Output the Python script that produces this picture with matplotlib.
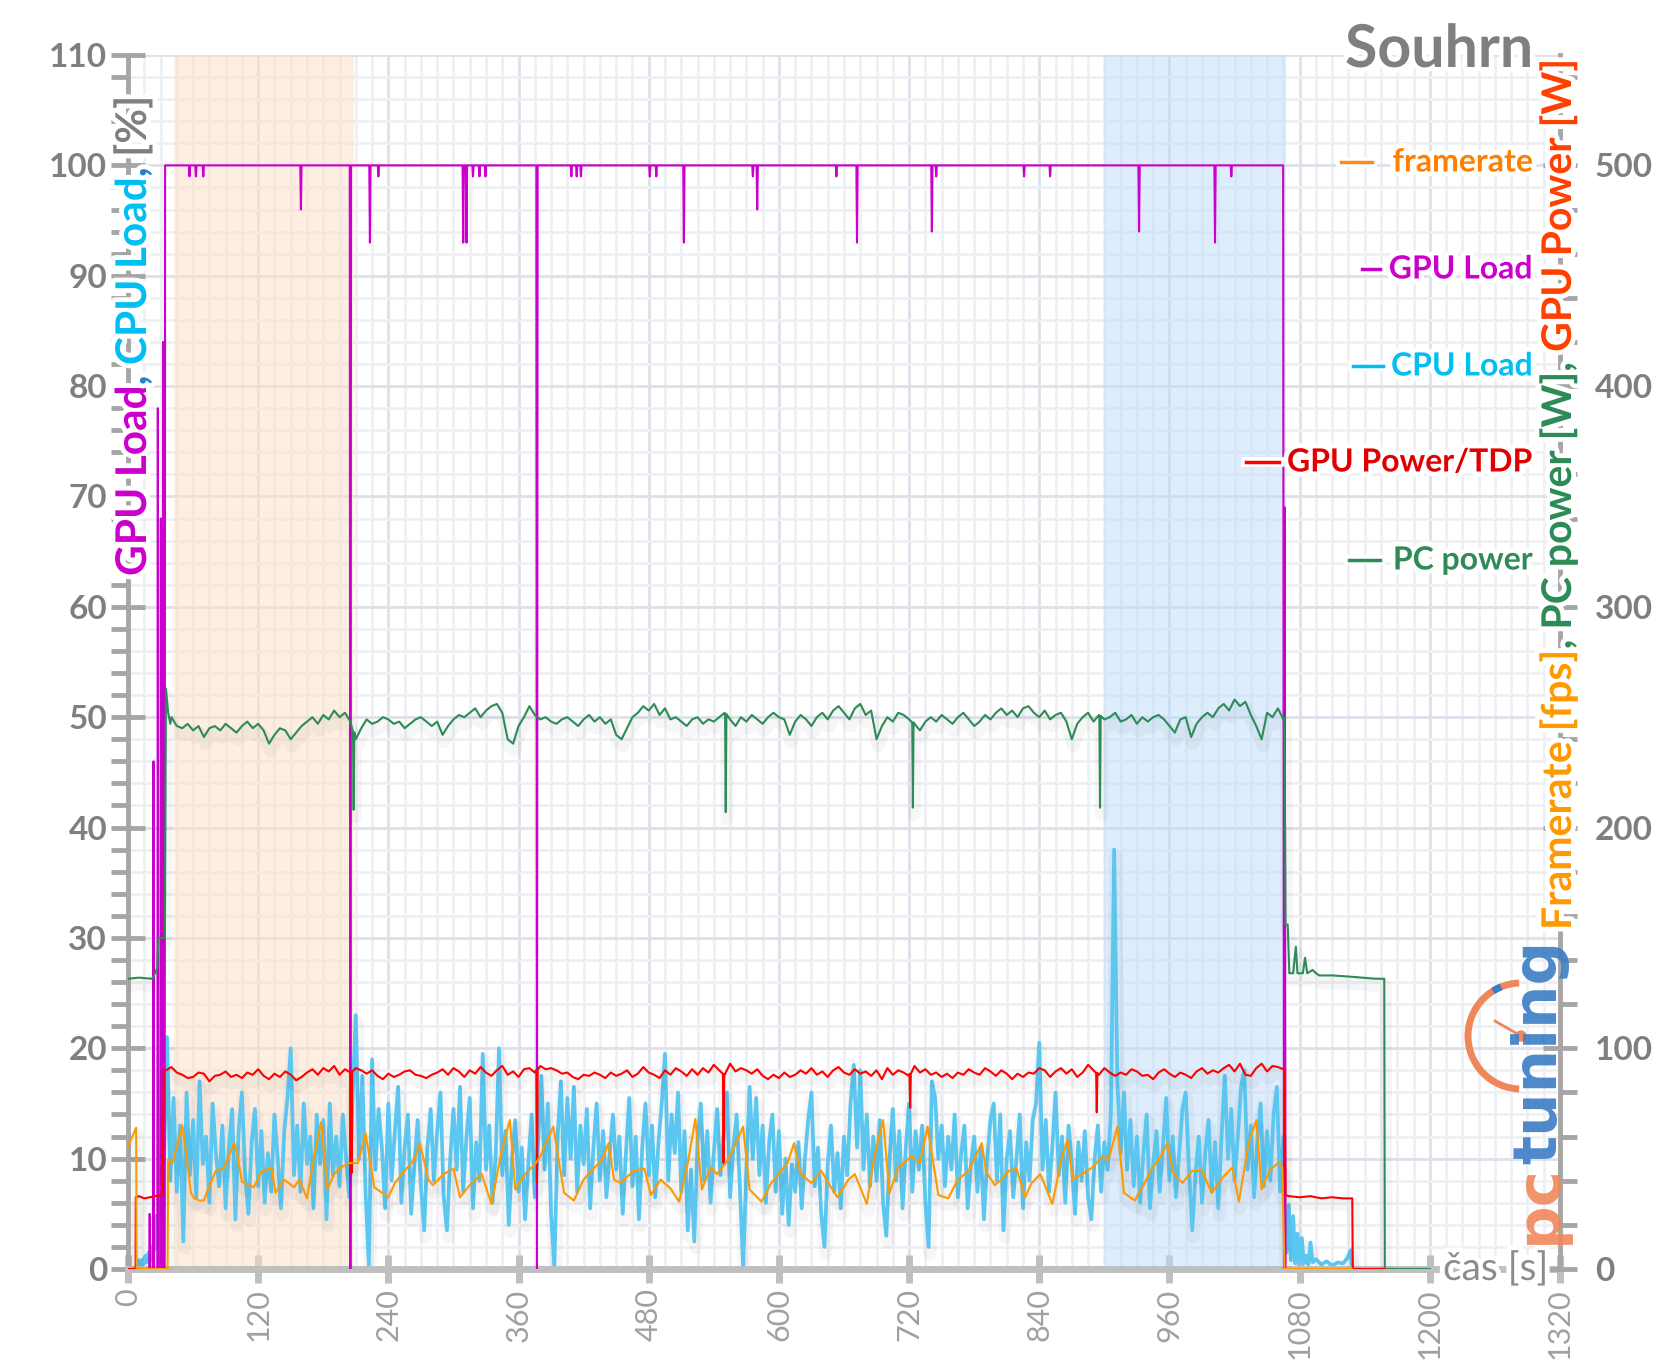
import numpy as np
import matplotlib
matplotlib.use("Agg")
import matplotlib.pyplot as plt
import matplotlib.patheffects as pe
from matplotlib.lines import Line2D
from matplotlib.patches import Arc, Circle

plt.rcParams['font.family'] = ['Lato', 'DejaVu Sans']

# ---------------- data ----------------
# GPU load [%] : start spikes, dips from 100 %, shutdown
gpu_start_t = [0, 19.5, 20, 20.5, 23, 23.5, 24, 27, 27.5, 28, 30, 30.3, 30.8, 32, 32.3, 32.8, 33.8, 34.2]
gpu_start_v = [0, 0, 5, 0, 0, 46, 0, 0, 78, 0, 0, 68, 0, 0, 84, 0, 0, 100]
gpu_dip_t = [56.7, 62.6, 69.4, 159.4, 205, 223, 230.8, 309, 312, 318, 324, 329.5, 377, 408.7,
             413.6, 417.5, 481, 487, 512.4, 576, 580, 653, 672, 741, 745, 826, 850, 932, 1002, 1017]
gpu_dip_v = [99, 99, 99, 96, 0, 93, 99, 93, 93, 99, 99, 99, 0, 99,
             99, 99, 99, 99, 93, 99, 96, 99, 93, 94, 99, 99, 99, 94, 93, 99]
gpu_end_t = [1064.8, 1065.6, 1066.2, 1067, 1160]
gpu_end_v = [100, 0, 69, 0, 0]

# CPU load [%]
cpu_start_t = list(range(8, 33))
cpu_start_v = [0, 0.3, 0.8, 0.4, 0.6, 0.3, 0.9, 0.5, 1.2, 0.6, 0.8, 1.5, 0.7, 1.1, 2.0, 1.3,
               2.5, 1.8, 4.8, 3.0, 2.2, 5.0, 3.5, 6.5, 8.0]
cpu_t = np.arange(33, 1066, 3)
cpu_v = [
    9.5, 21, 8, 15.5, 7, 13, 2.5, 16, 8.5, 13.5, 6.5, 17, 9.5, 12, 6, 15, 10.5, 7.5, 13, 5.5,
    11, 14.5, 4.5, 12.5, 16, 8.5, 5, 11.5, 14.5, 7.5, 12.5, 6, 10.5, 7, 14, 10, 5.5, 12.5, 15.5, 20,
    8.5, 13, 7, 15, 9.5, 12, 5.5, 14, 9.5, 13.5, 4.5, 15, 8.5, 12, 7.5, 14, 10, 6.5, 15.5, 23,
    10, 17.5, 7, 0.3, 19, 9, 14.5, 11, 5.5, 15, 8, 12.5, 16.5, 6, 11, 14, 5, 9.5, 13.5, 7.5,
    3.5, 11, 14.5, 8, 12.5, 16, 6.5, 3.5, 10, 14.5, 9, 16.5, 7, 12, 15.5, 5.5, 11.5, 8, 19.5, 9,
    13, 6, 10.5, 20, 8.5, 12.5, 4, 10, 13.5, 7, 11, 4.5, 9.5, 14, 6.5, 11.5, 17.5, 9, 15, 5,
    0.2, 12, 17, 8.5, 15.5, 10, 16.5, 7, 13, 9.5, 14.5, 5.5, 11, 15, 8, 12.5, 6.5, 10.5, 14, 9,
    12, 5, 10.5, 15.5, 7.5, 12, 4.5, 11, 15, 8.5, 13, 6.5, 11.5, 15, 19.5, 8, 14, 10.5, 16, 7,
    12.5, 3.5, 9, 2.5, 11.5, 15, 8, 12.5, 6, 10.5, 14.5, 8.5, 12, 16, 6.5, 11, 14, 7.5, 0.2, 9,
    16.5, 10, 15.5, 8.5, 13, 6, 11.5, 14, 7, 12.5, 5, 10, 4, 9.5, 7, 11.5, 5.5, 10, 13.5, 16,
    7.5, 11, 5, 2, 9.5, 13, 7, 10.5, 5.5, 12, 8.5, 15, 18.5, 11, 18, 9, 14, 7.5, 12, 8,
    13.5, 6, 3, 10, 14.5, 8, 12.5, 5.5, 11, 15, 7, 12.5, 9, 13, 6, 2, 17, 15.5, 10, 13,
    7.5, 12, 9, 14, 6.5, 10.5, 13, 5.5, 9.5, 12, 7, 11, 4.5, 10, 13.5, 15, 8, 14, 3.5, 10,
    12.5, 6.5, 10, 14, 5.5, 11.5, 8, 13.5, 15, 20.5, 9, 13.5, 7, 11, 16, 8.5, 12, 6, 13, 9.5,
    5, 11.5, 8, 12.5, 6.5, 4.5, 10, 13, 7, 11.5, 9, 14, 38, 17, 10.5, 16, 9, 13.5, 7.5, 12,
    6, 10.5, 14, 5.5, 9.5, 12.5, 7, 11, 15.5, 8, 12, 6.5, 10.5, 14.5, 16, 9, 3.5, 8.5, 12, 6,
    10.5, 13.5, 7, 11.5, 5.5, 12, 17.5, 10, 14.5, 8, 12, 16.5, 18, 9, 13, 6.5, 11.5, 15, 7.5, 12.5,
    8, 14, 16.5, 7, 12,
]
cpu_end_t = [1066, 1068, 1070, 1072, 1074, 1076, 1078, 1080, 1082, 1084, 1086, 1088, 1090, 1092,
             1095, 1100, 1105, 1110, 1115, 1120, 1124, 1127, 1128.5]
cpu_end_v = [5.5, 1.5, 5.8, 0.8, 4.8, 0.5, 3.2, 0.6, 2.8, 0.5, 1.2, 0.4, 2.4, 0.6,
             0.9, 0.4, 0.7, 0.3, 0.6, 0.5, 1.0, 1.7, 0]

# framerate [fps]
fps_t = [0, 4, 7.5, 8, 36.5, 37, 41, 50, 54, 58, 61, 66, 70, 73, 81, 88, 98, 101, 105, 116, 123,
         132, 136, 144, 153, 158, 165, 172, 178, 184, 190, 196, 204, 212, 219, 227, 240, 246, 255,
         264, 269, 277, 281, 291, 300, 306, 315, 326, 335, 344, 352, 357, 366, 376, 380, 392, 402,
         411, 420, 429, 437, 443, 448, 454, 466, 476, 482, 491, 500, 508, 516, 523, 529, 537, 543,
         553, 559, 567, 573, 584, 593, 602, 608, 614, 620, 630, 639, 648, 654, 664, 670, 681, 688,
         696, 702, 710, 722, 730, 737, 747, 756, 765, 775, 787, 791, 799, 805, 812, 819, 827, 833,
         841, 852, 861, 866, 871, 879, 889, 898, 904, 912, 918, 928, 935, 944, 952, 958, 964, 972,
         981, 990, 999, 1009, 1018, 1024, 1033, 1040, 1045, 1052, 1061, 1064, 1066, 1128]
fps_v = [55.5, 60, 64, 0, 0, 49.5, 48, 65, 51, 34.5, 32, 31, 31, 35, 44.5, 45.5, 57, 51, 39.5, 37, 44,
         46, 34.5, 40.5, 37, 40.5, 32, 52.5, 66.5, 36, 43, 46, 48, 48, 61.5, 37, 32.5, 39, 44.5,
         49.5, 57, 40.5, 38, 43, 45.5, 32.5, 38, 43, 29.5, 52.5, 67.5, 36, 43, 48, 51, 64.5, 34.5,
         31, 40.5, 45.5, 49.5, 57, 40.5, 39, 44.5, 45.5, 33.5, 40.5, 36.5, 30.5, 48, 68, 36, 46, 43,
         49.5, 55.5, 64.5, 36, 30.5, 39, 44.5, 48, 57, 43, 39, 44.5, 37, 32.5, 40.5, 43, 29.5, 51,
         67.5, 34.5, 46, 51, 48, 64.5, 33.5, 32, 40.5, 44.5, 57, 44, 38, 40.5, 44.5, 45.5, 32.5, 39,
         43, 29.5, 51, 58.5, 40.5, 43, 46, 51, 49.5, 64.5, 34.5, 31, 37, 45.5, 51, 57, 43, 39,
         44.5, 44.5, 34.5, 41.5, 46, 30.5, 57, 67.5, 36, 44.5, 48.5, 46, 0, 0]

# GPU power [W]
gpw_start_t = [0, 7, 7.2, 10, 15, 20, 25, 30, 32, 33]
gpw_start_v = [0, 0, 32.5, 33, 32, 32.5, 33, 33.5, 34, 90]
gpw_t = np.arange(35, 1066, 5)
gpw_v = [
    90, 91.5, 89, 88, 86.5, 87, 89, 88.5, 85, 87.5, 88, 89.5, 87, 88, 86.5, 89, 88, 90.5, 87.5, 86,
    88.5, 87, 89.5, 88, 85.5, 87, 89, 90.5, 88, 91, 89.5, 92, 88, 90.5, 89, 91, 90, 88.5, 90, 87.5,
    86, 88.5, 87, 88, 89.5, 90, 88, 87.5, 86.5, 88, 89, 90.5, 88, 91, 89.5, 87, 90, 88.5, 91.5, 89,
    87.5, 90, 92, 88, 89.5, 87, 90.5, 91, 89, 92, 90.5, 91, 90, 88.5, 89, 87, 86, 88, 87.5, 89,
    88, 86.5, 89, 87.5, 88.5, 90, 87, 88.5, 91.5, 89, 88, 86.5, 90, 88, 91, 89.5, 87.5, 90.5, 88, 91,
    89, 92.5, 90, 88, 93, 89.5, 91, 90, 88.5, 90.5, 87.5, 86, 88, 86.5, 89, 87, 88, 90, 88.5, 91,
    88, 89.5, 87, 90, 91.5, 89, 88, 90.5, 88.5, 89.5, 87.5, 90, 86, 91, 88, 90, 89, 87.5, 92, 89,
    90.5, 88, 89, 87, 88.5, 86.5, 89, 88, 90.5, 89, 88, 91, 89.5, 87.5, 90, 88.5, 86, 88.5, 87, 89,
    88.5, 91, 90, 87, 89.5, 91, 88.5, 90.5, 87, 89, 92.5, 90, 88, 91, 89, 87.5, 89, 88, 90.5, 89.5,
    87.5, 88, 86, 89, 90.5, 88.5, 87, 89, 88, 86.5, 89.5, 91, 88.5, 90, 89, 91, 92.5, 89.5, 93, 88,
    87.5, 91, 93, 89.5, 92, 91.5, 90.5,
]
gpw_dip_t = [206, 377, 549, 721, 893]
gpw_dip_v = [43.5, 39, 48, 73, 71]
gpw_end_t = [1066, 1067, 1070, 1080, 1090, 1100, 1110, 1120, 1128.5, 1129, 1158]
gpw_end_v = [90, 33.5, 33, 32.5, 33, 32, 32.5, 32, 32, 0, 0]

# PC power [W]
pcw_start_t = [0, 10, 22, 24, 27, 28, 34, 35, 37, 39]
pcw_start_v = [131.5, 132, 131.5, 133, 136.5, 150, 150, 263, 252, 247]
pcw_t = np.arange(40, 1066, 5)
pcw_v = [
    250, 246, 245, 247, 244, 246, 241, 245, 246, 244, 247, 245, 243, 246, 248, 245, 247, 244, 238, 242,
    245, 244, 240, 243, 246, 248, 250, 247, 251, 249, 253, 250, 252, 248, 240, 245, 249, 247, 248, 250,
    249, 247, 248, 245, 247, 249, 250, 248, 246, 248, 242, 246, 249, 251, 250, 252, 254, 250, 253, 255,
    256, 252, 240, 238, 246, 250, 255, 251, 249, 250, 248, 247, 249, 250, 248, 246, 249, 251, 248, 250,
    247, 249, 242, 240, 245, 250, 252, 255, 253, 256, 251, 254, 249, 250, 248, 246, 249, 250, 247, 249,
    248, 250, 252, 249, 246, 250, 248, 251, 249, 247, 250, 252, 250, 249, 242, 248, 251, 249, 246, 250,
    252, 249, 253, 255, 252, 249, 254, 256, 251, 253, 240, 246, 250, 248, 252, 251, 249, 247, 244, 248,
    250, 248, 251, 249, 247, 250, 252, 249, 246, 248, 251, 249, 252, 254, 251, 253, 250, 254, 255, 252,
    250, 253, 249, 251, 252, 248, 240, 247, 250, 252, 248, 251, 249, 250, 252, 248, 249, 251, 247, 250,
    248, 250, 251, 249, 246, 243, 249, 250, 241, 247, 250, 252, 250, 254, 256, 253, 258, 255, 257, 251,
    246, 240, 252, 250, 254, 249,
]
pcw_dip_t = [208, 551, 723.5, 896]
pcw_dip_v = [208, 207, 209, 209]
pcw_end_t = [1066, 1067, 1069, 1070.5, 1074, 1076.5, 1078, 1083, 1085, 1087, 1092, 1095, 1098,
             1110, 1125, 1138, 1150, 1158, 1158.5, 1200]
pcw_end_v = [250, 156, 156, 134, 134, 146, 134, 134, 141, 134, 135.5, 134, 133,
             133, 132.5, 132, 131.5, 131.5, 0, 0]

warm_span = (42, 208)
cool_span = (900, 1067)


def with_dips(t, v, dip_t, dip_v, base_t, base_v, w=0.6):
    # add narrow one-sample dips next to the regular samples
    tt = list(t)
    vv = list(v)
    for dt, dv in zip(dip_t, dip_v):
        b = np.interp(dt, base_t, base_v)
        tt += [dt - w, dt, dt + w]
        vv += [b, dv, b]
    o = np.argsort(tt, kind='stable')
    return np.array(tt)[o], np.array(vv)[o]


gpu_t, gpu_v = with_dips([34.2, 1064.8], [100, 100], gpu_dip_t, gpu_dip_v, [0, 2000], [100, 100])
gpu_T = np.concatenate([gpu_start_t[:-1], gpu_t, gpu_end_t[1:]])
gpu_V = np.concatenate([gpu_start_v[:-1], gpu_v, gpu_end_v[1:]])

cpu_T = np.concatenate([cpu_start_t, cpu_t, cpu_end_t])
cpu_V = np.concatenate([cpu_start_v, cpu_v, cpu_end_v])

g_t, g_v = with_dips(gpw_t, gpw_v, gpw_dip_t, gpw_dip_v, gpw_t, gpw_v)
gpw_T = np.concatenate([gpw_start_t, g_t, gpw_end_t])
gpw_V = np.concatenate([gpw_start_v, g_v, gpw_end_v])

p_t, p_v = with_dips(pcw_t, pcw_v, pcw_dip_t, pcw_dip_v, pcw_t, pcw_v)
pcw_T = np.concatenate([pcw_start_t, p_t, pcw_end_t])
pcw_V = np.concatenate([pcw_start_v, p_v, pcw_end_v])

# ---------------- figure ----------------
W, H = 1658, 1361
fig = plt.figure(figsize=(W / 100, H / 100), dpi=100)
ax = fig.add_axes([128 / W, 1 - 1269 / H, (1560 - 128) / W, (1269 - 55) / H])
ax2 = ax.twinx()

GRAY = '#7f7f7f'
SPINE = '#a6a6a6'
glow = [pe.withStroke(linewidth=7, foreground='white')]
shadow = [pe.SimpleLineShadow(offset=(1, -5), shadow_color='k', alpha=0.035, linewidth=9), pe.Normal()]

ax.set_xlim(0, 1320)
ax.set_ylim(0, 110)
ax2.set_ylim(0, 550)

ax.set_axisbelow(True)
ax.set_xticks(np.arange(0, 1321, 120))
ax.set_xticks(np.arange(0, 1321, 15), minor=True)
ax.set_yticks(np.arange(0, 111, 10))
ax.set_yticks(np.arange(0, 111, 2), minor=True)
ax.grid(which='minor', color='#eef0f4', lw=2)
ax.grid(which='major', color='#dde1e8', lw=2)

ax.axvspan(*warm_span, color='#fcdfc4', alpha=0.5, lw=0, zorder=1)
ax.axvspan(*cool_span, color='#bddcf9', alpha=0.5, lw=0, zorder=1)

ax.plot(cpu_T, cpu_V, color='#5bc6f0', lw=2.7, zorder=2, path_effects=shadow)
ax.plot(gpu_T, gpu_V, color='#cc00cc', lw=1.5, zorder=3)
ax2.plot(pcw_T, pcw_V, color='#2e8b57', lw=1.5, path_effects=shadow)
ax2.plot(gpw_T, gpw_V, color='#ff0000', lw=1.5, path_effects=shadow)
ax2.plot(fps_t, fps_v, color='#ff9900', lw=1.5, path_effects=shadow)

ax.spines['top'].set_visible(False)
ax2.spines['top'].set_visible(False)
ax2.spines['left'].set_visible(False)
ax2.spines['bottom'].set_visible(False)
ax.spines['right'].set_visible(False)
ax.spines['left'].set_color(SPINE)
ax.spines['left'].set_linewidth(3.5)
ax.spines['bottom'].set_color('#bfbfbf')
ax.spines['bottom'].set_linewidth(5)
ax2.spines['right'].set_color(SPINE)
ax2.spines['right'].set_linewidth(3.5)

ax.tick_params(axis='x', which='minor', length=0)
ax.tick_params(axis='x', which='major', direction='inout', length=20, width=5, color='#bfbfbf',
               labelsize=22, labelcolor='#a0a0a0', labelrotation=90, pad=4)
ax.tick_params(axis='y', which='major', direction='inout', length=24, width=3.5, color=SPINE,
               labelsize=24, labelcolor=GRAY, pad=3)
ax.tick_params(axis='y', which='minor', direction='out', length=12, width=3.5, color=SPINE)
ax2.set_yticks(np.arange(0, 501, 100))
ax2.set_yticks(np.arange(0, 551, 20), minor=True)
ax2.tick_params(axis='y', which='major', direction='inout', length=24, width=3.5, color=SPINE,
                labelsize=24, labelcolor=GRAY, pad=13)
ax2.tick_params(axis='y', which='minor', direction='out', length=12, width=3.5, color=SPINE)
for lab in ax.get_yticklabels() + ax2.get_yticklabels():
    lab.set_fontweight('bold')

renderer = fig.canvas.get_renderer()


def vtext(x, y, parts, size):
    # multi-coloured text rotated 90 deg, x/y in pixels (baseline start)
    for s, c in parts:
        t = fig.text(x / W, y / H, s, rotation=90, rotation_mode='anchor', ha='left',
                     va='baseline', color=c, fontsize=size, fontweight='bold', path_effects=glow,
                     zorder=5)
        y += t.get_window_extent(renderer).height


vtext(146, H - 576, [('GPU Load', '#cc00cc'), (',', '#1f7fd6'), (' CPU Load', '#00bff3'),
                     (',', '#1f7fd6'), (' [%]', GRAY)], 30.5)
vtext(1571, H - 930, [('Framerate [fps]', '#ff9900'), (',', '#2e8b57'), (' PC power [W],', '#2e8b57'),
                      (' GPU Power [W]', '#ff4000')], 29.5)

fig.text(1533 / W, (H - 67) / H, 'Souhrn', ha='right', va='baseline', fontsize=42.5,
         fontweight='bold', color=GRAY, path_effects=glow)

# legend entries on the right
legend_items = [
    ('framerate', '#ff7f00', '#ff8c1a', 162, 1341, 1372),
    ('GPU Load', '#cc00cc', '#cc00cc', 269, 1362, 1380),
    ('CPU Load', '#00bff3', '#00bff3', 366, 1353, 1383),
    ('GPU Power/TDP', '#e00000', '#ff0000', 462, 1246, 1279),
    ('PC power', '#2e8b57', '#2e8b57', 560, 1349, 1380),
]
for name, tc, lc, yy, x0, x1 in legend_items:
    fig.text(1533 / W, (H - yy) / H, name, ha='right', va='center', fontsize=23,
             fontweight='bold', color=tc, path_effects=glow)
    fig.add_artist(Line2D([x0 / W, x1 / W], [(H - yy) / H] * 2, color=lc, lw=2.5,
                          path_effects=glow))

fig.text(1443 / W, (H - 1269) / H, 'čas [s]', ha='left', va='center', fontsize=28,
         color='#8c8c8c', path_effects=glow)

# pctuning logo
logo_x = 1556
t1 = fig.text(logo_x / W, (H - 1244) / H, 'pc', rotation=90, rotation_mode='anchor',
              ha='left', va='baseline', fontsize=44, family='DejaVu Sans', fontweight='bold',
              color='#f0875a', alpha=0.9)
y_next = (H - 1244) + t1.get_window_extent(renderer).height
fig.text(logo_x / W, y_next / H, 'tuning', rotation=90, rotation_mode='anchor',
         ha='left', va='baseline', fontsize=44, family='DejaVu Sans', fontweight='bold',
         color='#3b7cc4', alpha=0.9)
cx, cy, r = 1521 / 100, (H - 1036) / 100, 0.53
fig.add_artist(Arc((cx, cy), 2 * r, 2 * r, theta1=92, theta2=268, lw=5, color='#f0875a',
                   transform=fig.dpi_scale_trans))
fig.add_artist(Arc((cx, cy), 2 * r, 2 * r, theta1=112, theta2=122, lw=5, color='#3b7cc4',
                   transform=fig.dpi_scale_trans))
fig.add_artist(Line2D([cx, cx - 0.26], [cy, cy + 0.15], lw=2, color='#f0875a',
                      transform=fig.dpi_scale_trans))
fig.add_artist(Circle((cx, cy), 0.05, color='#f0875a', transform=fig.dpi_scale_trans))

fig.savefig('out.png', dpi=100)
